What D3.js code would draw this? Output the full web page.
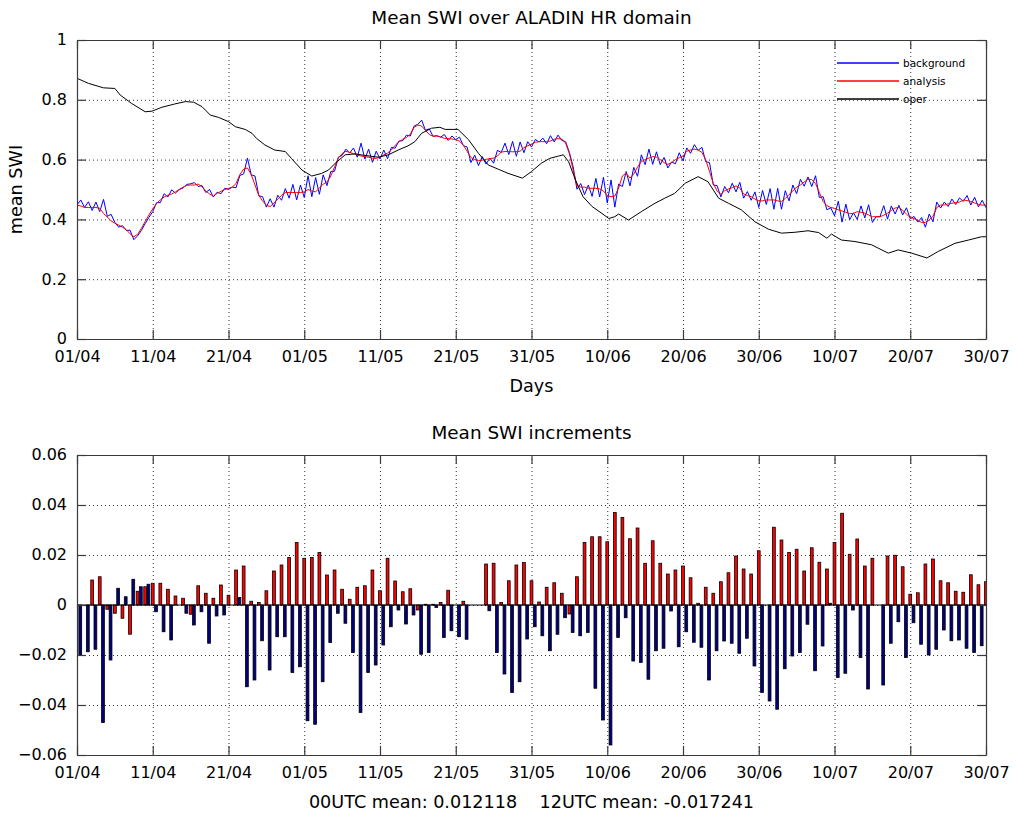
<!DOCTYPE html>
<html>
<head>
<meta charset="utf-8">
<script src="https://cdn.jsdelivr.net/npm/d3@7"></script>
<style>
  html, body { margin: 0; padding: 0; background: #fff; }
  svg { display: block; font-family: "DejaVu Sans", Verdana, sans-serif; }
</style>
</head>
<body>
<svg id="chart" width="1016" height="815"></svg>
<script>
// Mean soil wetness index (SWI), 01/04 to 30/07, every 12 h (00 and 12 UTC)
const tickDays = [0, 10, 20, 30, 40, 50, 60, 70, 80, 90, 100, 110, 120];
const tickLabels = ["01/04", "11/04", "21/04", "01/05", "11/05", "21/05", "31/05",
                    "10/06", "20/06", "30/06", "10/07", "20/07", "30/07"];

// analysis, one value per 12 h starting 01/04 00UTC
const analysis = [
  0.448, 0.445, 0.44, 0.44, 0.44, 0.44, 0.437, 0.42, 0.408, 0.395,
  0.387, 0.381, 0.374, 0.366, 0.352, 0.342, 0.35, 0.37, 0.393, 0.415,
  0.435, 0.453, 0.465, 0.475, 0.481, 0.485, 0.492, 0.5, 0.508, 0.514,
  0.515, 0.515, 0.518, 0.51, 0.495, 0.485, 0.478, 0.487, 0.494, 0.5,
  0.504, 0.508, 0.52, 0.55, 0.568, 0.572, 0.55, 0.515, 0.48, 0.462,
  0.447, 0.443, 0.455, 0.468, 0.48, 0.49, 0.49, 0.49, 0.49, 0.49,
  0.492, 0.5, 0.495, 0.492, 0.505, 0.518, 0.525, 0.545, 0.575, 0.605,
  0.62, 0.628, 0.624, 0.62, 0.615, 0.612, 0.61, 0.608, 0.605, 0.604,
  0.608, 0.616, 0.622, 0.632, 0.648, 0.66, 0.668, 0.674, 0.685, 0.708,
  0.716, 0.712, 0.698, 0.684, 0.678, 0.679, 0.676, 0.671, 0.67, 0.669,
  0.667, 0.662, 0.648, 0.628, 0.607, 0.6, 0.597, 0.598, 0.601, 0.603,
  0.605, 0.612, 0.625, 0.627, 0.627, 0.626, 0.627, 0.628, 0.64, 0.646,
  0.652, 0.658, 0.66, 0.66, 0.66, 0.662, 0.668, 0.67, 0.669, 0.655,
  0.62, 0.565, 0.512, 0.508, 0.508, 0.504, 0.504, 0.504, 0.502, 0.495,
  0.48, 0.476, 0.478, 0.505, 0.545, 0.555, 0.538, 0.552, 0.575, 0.593,
  0.6, 0.605, 0.61, 0.608, 0.6, 0.59, 0.584, 0.59, 0.6, 0.606,
  0.612, 0.628, 0.632, 0.635, 0.632, 0.624, 0.6, 0.56, 0.52, 0.495,
  0.484, 0.496, 0.502, 0.506, 0.512, 0.505, 0.485, 0.48, 0.476, 0.468,
  0.462, 0.462, 0.465, 0.465, 0.465, 0.462, 0.46, 0.47, 0.483, 0.495,
  0.508, 0.515, 0.525, 0.534, 0.533, 0.52, 0.49, 0.46, 0.446, 0.44,
  0.437, 0.432, 0.428, 0.424, 0.419, 0.42, 0.426, 0.424, 0.421, 0.415,
  0.409, 0.409, 0.409, 0.414, 0.421, 0.43, 0.438, 0.44, 0.43, 0.418,
  0.406, 0.403, 0.396, 0.39, 0.39, 0.398, 0.41, 0.44, 0.448, 0.448,
  0.452, 0.454, 0.456, 0.458, 0.465, 0.463, 0.46, 0.455, 0.45, 0.448,
  0.448
];

// background (first guess), same 12 h steps
const background = [
  0.448, 0.465, 0.44, 0.459, 0.43, 0.458, 0.426, 0.467, 0.41, 0.417,
  0.39, 0.374, 0.379, 0.363, 0.364, 0.332, 0.345, 0.363, 0.386, 0.407,
  0.426, 0.456, 0.456, 0.486, 0.475, 0.499, 0.488, 0.5, 0.505, 0.517,
  0.519, 0.523, 0.51, 0.513, 0.49, 0.5, 0.475, 0.491, 0.486, 0.504,
  0.5, 0.508, 0.506, 0.547, 0.552, 0.605, 0.549, 0.545, 0.479, 0.476,
  0.441, 0.469, 0.441, 0.481, 0.464, 0.503, 0.471, 0.517, 0.465, 0.515,
  0.473, 0.546, 0.476, 0.54, 0.484, 0.549, 0.513, 0.56, 0.561, 0.608,
  0.614, 0.635, 0.622, 0.639, 0.608, 0.655, 0.602, 0.635, 0.591, 0.628,
  0.602, 0.632, 0.603, 0.641, 0.638, 0.662, 0.663, 0.682, 0.679, 0.712,
  0.718, 0.732, 0.698, 0.703, 0.678, 0.68, 0.675, 0.684, 0.664, 0.679,
  0.667, 0.675, 0.647, 0.642, 0.59, 0.615, 0.58, 0.61, 0.585, 0.605,
  0.588, 0.631, 0.624, 0.655, 0.617, 0.661, 0.611, 0.659, 0.623, 0.66,
  0.642, 0.667, 0.659, 0.672, 0.653, 0.68, 0.659, 0.682, 0.664, 0.66,
  0.624, 0.576, 0.501, 0.52, 0.483, 0.515, 0.477, 0.537, 0.475, 0.541,
  0.455, 0.532, 0.441, 0.518, 0.51, 0.56, 0.512, 0.574, 0.544, 0.616,
  0.583, 0.635, 0.584, 0.626, 0.583, 0.607, 0.572, 0.592, 0.586, 0.623,
  0.596, 0.639, 0.621, 0.65, 0.631, 0.641, 0.593, 0.59, 0.515, 0.513,
  0.475, 0.51, 0.489, 0.521, 0.492, 0.524, 0.471, 0.493, 0.464, 0.492,
  0.44, 0.497, 0.45, 0.503, 0.434, 0.504, 0.434, 0.496, 0.462, 0.515,
  0.486, 0.534, 0.511, 0.542, 0.51, 0.546, 0.473, 0.476, 0.432, 0.439,
  0.412, 0.461, 0.391, 0.451, 0.399, 0.422, 0.4, 0.445, 0.405, 0.449,
  0.39, 0.409, 0.409, 0.446, 0.401, 0.445, 0.418, 0.447, 0.415, 0.439,
  0.402, 0.41, 0.391, 0.406, 0.374, 0.418, 0.392, 0.458, 0.438, 0.458,
  0.443, 0.468, 0.45, 0.472, 0.46, 0.48, 0.448, 0.474, 0.442, 0.464,
  0.439
];

// operational SWI, sampled at the days listed
const operDays = [
  0, 1.5, 3.5, 5, 5.7, 7.2, 9, 9.9, 11.2, 12.9, 14.3, 15.4, 16.5, 17.6, 18.7,
  20, 20.9, 22.2, 23.1, 23.7, 24.8, 26.1, 27.5, 28.3, 29.7, 31, 32.3, 33.2,
  34.1, 35.4, 36.7, 38, 39.8, 41.1, 42.4, 43.7, 44.6, 45.5, 46.8, 47.9, 48.6,
  50.3, 51.7, 53, 54.3, 55.6, 56.9, 58.8, 60, 61.3, 62.4, 63.6, 64.2, 64.9,
  65.8, 66.8, 68, 69.3, 70.2, 71, 71.5, 72.8, 74.5, 76.3, 77.6, 78.9, 80.3,
  82, 83.3, 84.7, 86, 87.7, 89.5, 91.3, 93, 94.8, 96.5, 97.9, 99, 99.6,
  100.9, 102.7, 104.9, 107.1, 108.4, 110.2, 112.2, 113.7, 115.9, 117.7,
  119.4, 120
];
const operSWI = [
  0.872, 0.855, 0.84, 0.838, 0.816, 0.788, 0.76, 0.762, 0.775, 0.786, 0.794,
  0.792, 0.777, 0.749, 0.741, 0.727, 0.71, 0.701, 0.688, 0.671, 0.649, 0.632,
  0.627, 0.604, 0.565, 0.545, 0.554, 0.565, 0.588, 0.616, 0.619, 0.614, 0.608,
  0.616, 0.632, 0.646, 0.66, 0.688, 0.705, 0.708, 0.701, 0.701, 0.666, 0.621,
  0.582, 0.568, 0.554, 0.538, 0.56, 0.588, 0.604, 0.612, 0.616, 0.593, 0.532,
  0.476, 0.443, 0.42, 0.403, 0.409, 0.418, 0.398, 0.426, 0.454, 0.471, 0.487,
  0.521, 0.543, 0.526, 0.471, 0.454, 0.432, 0.392, 0.367, 0.354, 0.357, 0.362,
  0.356, 0.337, 0.351, 0.331, 0.326, 0.315, 0.287, 0.298, 0.287, 0.271, 0.293,
  0.32, 0.331, 0.342, 0.342
];

// SWI increments (analysis - background), one per day; null = no analysis
const inc00 = [
  0, 0, 0.010, 0.0113, -0.0017, -0.0033, -0.0053, -0.0117, 0.0055, 0.0073,
  0.0087, 0.0087, 0.0063, 0.0036, 0.0027, -0.0037, 0.0077, 0.0047, 0.0027, 0.008,
  0.0039, 0.014, 0.0156, 0.0015, 0.001, 0.0057, 0.0136, 0.016, 0.019, 0.025,
  0.0187, 0.019, 0.021, 0.012, 0.014, 0.0063, 0.0023, 0.0071, 0.0077, 0.014,
  0.0057, 0.0187, 0.0096, 0.0053, 0.0065, -0.002, 0.0003, 0.0003, 0.001, 0.0059,
  0, 0.0015, null, null, 0.0164, 0.0167, 0.001, 0.0097, 0.016, 0.017,
  0.0097, 0.0012, 0.0071, 0.0089, 0.0047, -0.0036, 0.0113, 0.025, 0.0273, 0.0273,
  0.0253, 0.037, 0.035, 0.0265, 0.0308, 0.0167, 0.0257, 0.0167, 0.0124, 0.014,
  0.0156, 0.0109, 0.0007, 0.0071, 0.0047, 0.0093, 0.0129, 0.0196, 0.0144, 0.0124,
  0.0217, 0, 0.0311, 0.026, 0.021, 0.0223, 0.0136, 0.0229, 0.0171, 0.0144,
  0.025, 0.0367, 0.0203, 0.0264, 0.0156, 0.0187, 0, 0.0196, 0.0199, 0.0153,
  0.0043, 0.0049, 0.0164, 0.0184, 0.0097, 0.0089, 0.0055, 0.0051, 0.0121, 0.0081,
  0.0093
];
const inc12 = [
  -0.020, -0.0187, -0.0177, -0.047, -0.022, 0.0067, 0.0033, 0.0103, 0.0073, 0.0083,
  -0.0027, -0.0107, -0.014, 0, -0.0033, -0.008, -0.0027, -0.0153, -0.0044, -0.004,
  0, 0.003, -0.0327, -0.030, -0.0143, -0.026, -0.0127, -0.0127, -0.027, -0.0247,
  -0.0463, -0.0477, -0.0307, -0.015, -0.0033, -0.0073, -0.019, -0.043, -0.027, -0.024,
  -0.016, -0.0087, -0.002, -0.0076, -0.004, -0.0197, -0.019, -0.001, -0.013, -0.0103,
  -0.0127, -0.0137, null, null, -0.0023, -0.019, -0.0276, -0.035, -0.0307, -0.0136,
  -0.0087, -0.0123, -0.0183, -0.0117, -0.0051, -0.011, -0.0123, -0.011, -0.0333, -0.046,
  -0.056, -0.013, -0.0051, -0.0224, -0.023, -0.0297, -0.0183, -0.0173, -0.0024, -0.0167,
  -0.0107, -0.0149, -0.0169, -0.030, -0.0183, -0.0144, -0.0153, -0.0193, -0.0133, -0.0244,
  -0.035, -0.0384, -0.0417, -0.0255, -0.0204, -0.019, -0.0077, -0.0263, -0.0164, 0.0007,
  -0.029, -0.0273, -0.002, -0.021, -0.0336, 0, -0.032, -0.0153, -0.0067, -0.021,
  -0.0071, -0.0157, -0.02, -0.0177, -0.01, -0.0143, -0.014, -0.0173, -0.019, -0.0163
];

const svg = d3.select("#chart");
const FONT = 16;          // tick labels
const LABEL_FONT = 17.6;  // axis labels
const TITLE_FONT = 18.4;  // panel titles
const FAMILY = "DejaVu Sans, Verdana, sans-serif";
const left = 77, right = 986;
const x = d3.scaleLinear().domain([0, 120]).range([left, right]);

const top1 = 40, bot1 = 339;
const y1 = d3.scaleLinear().domain([0, 1]).range([bot1, top1]);
const top2 = 455, bot2 = 755;
const y2 = d3.scaleLinear().domain([-0.06, 0.06]).range([bot2, top2]);

const GRID = { stroke: "#000", width: 0.8, dash: "1,3" };
const AXIS_COLOR = "#3a3a3a";

function drawGrid(y, yTop, yBot, yTicks) {
  const g = svg.append("g");
  g.selectAll("line.vg").data(tickDays.slice(1, -1)).join("line")
    .attr("x1", d => x(d) + 0.5).attr("x2", d => x(d) + 0.5)
    .attr("y1", yTop).attr("y2", yBot)
    .attr("stroke", GRID.stroke).attr("stroke-width", GRID.width)
    .attr("stroke-dasharray", GRID.dash);
  g.selectAll("line.hg").data(yTicks.slice(1, -1)).join("line")
    .attr("x1", left).attr("x2", right)
    .attr("y1", d => y(d) + 0.5).attr("y2", d => y(d) + 0.5)
    .attr("stroke", GRID.stroke).attr("stroke-width", GRID.width)
    .attr("stroke-dasharray", GRID.dash);
}

function drawAxes(y, yTop, yBot, yTicks, yFmt) {
  const g = svg.append("g");
  const tick = 9;
  const fmtX = d => tickLabels[tickDays.indexOf(d)];
  const ax = d3.axisBottom(x).tickValues(tickDays).tickFormat(fmtX)
    .tickSizeInner(-tick).tickSizeOuter(0).tickPadding(12);
  const axT = d3.axisTop(x).tickValues(tickDays).tickFormat("")
    .tickSizeInner(-tick).tickSizeOuter(0);
  const ay = d3.axisLeft(y).tickValues(yTicks).tickFormat(yFmt)
    .tickSizeInner(-tick).tickSizeOuter(0).tickPadding(10);
  const ayR = d3.axisRight(y).tickValues(yTicks).tickFormat("")
    .tickSizeInner(-tick).tickSizeOuter(0);
  const styleAxis = sel => {
    sel.select(".domain").attr("stroke", AXIS_COLOR).attr("stroke-width", 1.2);
    sel.selectAll(".tick line").attr("stroke", AXIS_COLOR).attr("stroke-width", 1.2);
    sel.selectAll(".tick text").attr("fill", "#000").attr("font-size", FONT)
      .attr("font-family", FAMILY);
  };
  g.append("g").attr("transform", `translate(0,${yBot})`).call(ax).call(styleAxis);
  g.append("g").attr("transform", `translate(0,${yTop})`).call(axT).call(styleAxis);
  const gy = g.append("g").attr("transform", `translate(${left},0)`).call(ay).call(styleAxis);
  gy.selectAll(".tick text").attr("dy", "0.3em");
  g.append("g").attr("transform", `translate(${right},0)`).call(ayR).call(styleAxis);
}

const defs = svg.append("defs");

// ---------- top panel: mean SWI ----------
const yTicks1 = [0, 0.2, 0.4, 0.6, 0.8, 1];
drawGrid(y1, top1, bot1, yTicks1);

const lineHalf = d3.line().x((d, i) => x(i / 2)).y(d => y1(d));

defs.append("clipPath").attr("id", "clip1")
  .append("rect").attr("x", left).attr("y", top1).attr("width", right - left).attr("height", bot1 - top1);

const lines = svg.append("g").attr("clip-path", "url(#clip1)");
lines.append("path").datum(background)
  .attr("d", lineHalf).attr("fill", "none").attr("stroke", "#0000ff").attr("stroke-width", 1);
lines.append("path").datum(analysis)
  .attr("d", lineHalf).attr("fill", "none").attr("stroke", "#ff0000").attr("stroke-width", 1);
const operPts = operDays.map((d, i) => [d, operSWI[i]]);
lines.append("path").datum(operPts)
  .attr("d", d3.line().x(d => x(d[0])).y(d => y1(d[1])))
  .attr("fill", "none").attr("stroke", "#000").attr("stroke-width", 1);

drawAxes(y1, top1, bot1, yTicks1, d => String(d));

// legend
const legendItems = [
  { name: "background", color: "#0000ff" },
  { name: "analysis", color: "#ff0000" },
  { name: "oper", color: "#000" }
];
const lg = svg.append("g").attr("transform", "translate(837,63)");
legendItems.forEach((it, i) => {
  lg.append("line").attr("x1", 0).attr("x2", 62).attr("y1", i * 18).attr("y2", i * 18)
    .attr("stroke", it.color).attr("stroke-width", 1.3);
  lg.append("text").attr("x", 66).attr("y", i * 18).attr("dy", "0.35em")
    .attr("font-size", 10.5).attr("fill", "#000").text(it.name);
});

svg.append("text").attr("x", (left + right) / 2).attr("y", 24).attr("text-anchor", "middle")
  .attr("font-size", TITLE_FONT).text("Mean SWI over ALADIN HR domain");
svg.append("text").attr("x", (left + right) / 2).attr("y", 392).attr("text-anchor", "middle")
  .attr("font-size", LABEL_FONT).text("Days");
svg.append("text").attr("transform", `translate(22,${(top1 + bot1) / 2}) rotate(-90)`)
  .attr("text-anchor", "middle").attr("font-size", LABEL_FONT).text("mean SWI");

// ---------- bottom panel: increments ----------
const yTicks2 = [-0.06, -0.04, -0.02, 0, 0.02, 0.04, 0.06];
drawGrid(y2, top2, bot2, yTicks2);

defs.append("clipPath").attr("id", "clip2")
  .append("rect").attr("x", left).attr("y", top2).attr("width", right - left).attr("height", bot2 - top2);

const barW = x(0.37) - x(0);
const bars = svg.append("g").attr("clip-path", "url(#clip2)");
const bar00 = inc00.map((v, d) => ({ t: d, v })).filter(b => b.v !== null && b.v !== 0);
const bar12 = inc12.map((v, d) => ({ t: d + 0.43, v })).filter(b => b.v !== null && b.v !== 0);

function drawBars(data, fill) {
  bars.selectAll(null).data(data).join("rect")
    .attr("x", b => x(b.t) - barW / 2)
    .attr("width", barW)
    .attr("y", b => Math.min(y2(b.v), y2(0)))
    .attr("height", b => Math.abs(y2(b.v) - y2(0)))
    .attr("fill", fill).attr("stroke", "#000").attr("stroke-width", 0.8);
}
drawBars(bar00, "#ff0000");
drawBars(bar12, "#000080");

svg.append("line").attr("x1", left).attr("x2", right).attr("y1", y2(0)).attr("y2", y2(0))
  .attr("stroke", "#000").attr("stroke-width", 1);

drawAxes(y2, top2, bot2, yTicks2, d => d === 0 ? "0" : d3.format(".2f")(d));

svg.append("text").attr("x", (left + right) / 2).attr("y", 439).attr("text-anchor", "middle")
  .attr("font-size", TITLE_FONT).text("Mean SWI increments");
svg.append("text").attr("x", (left + right) / 2).attr("y", 808).attr("text-anchor", "middle")
  .attr("font-size", LABEL_FONT).attr("xml:space", "preserve")
  .text("00UTC mean: 0.012118    12UTC mean: -0.017241");
</script>
</body>
</html>
